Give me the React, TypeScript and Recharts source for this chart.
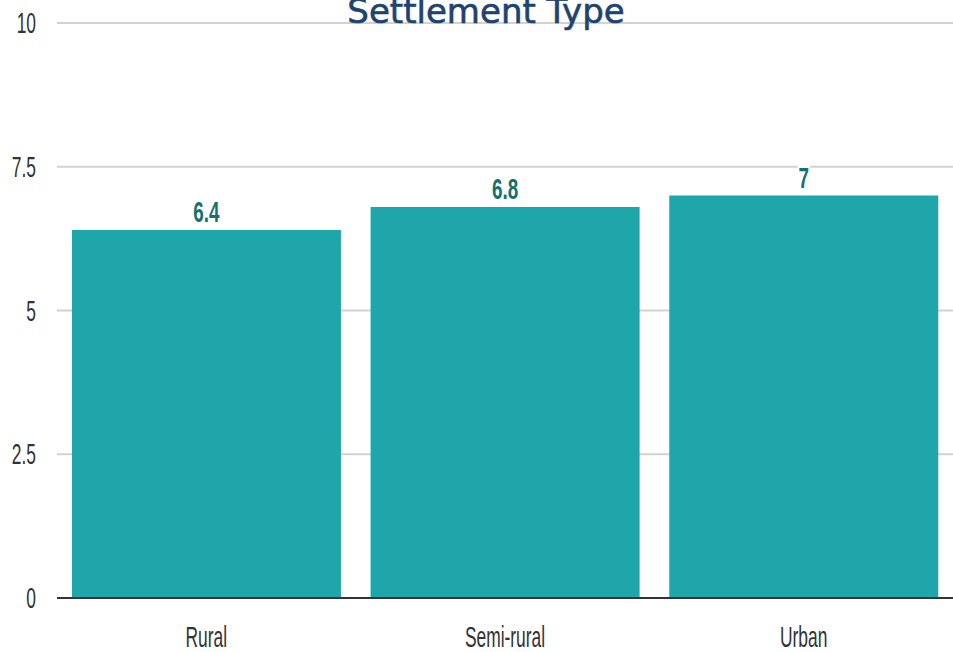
import { Bar, BarChart, CartesianGrid, LabelList, XAxis, YAxis } from "recharts";

const categories = ["Rural", "Semi-rural", "Urban"];
const scores = [6.4, 6.8, 7];
const yTicks = [0, 2.5, 5, 7.5, 10];

const data = categories.map((name, i) => ({ name, score: scores[i] }));

const FONT = "'Liberation Sans', Arial, sans-serif";

if (typeof document !== "undefined") document.body.style.margin = "0";

function XTick({ x, y, payload }: any) {
  return (
    <g transform={`translate(${x},${y + 47}) scale(0.6,1)`}>
      <text textAnchor="middle" fontSize={29} fontFamily={FONT} fill="#333">
        {payload.value}
      </text>
    </g>
  );
}

function YTick({ x, y, payload }: any) {
  return (
    <g transform={`translate(${x - 19},${y + 10}) scale(0.6,1)`}>
      <text textAnchor="end" fontSize={29} fontFamily={FONT} fill="#333">
        {payload.value}
      </text>
    </g>
  );
}

function ValueLabel({ x, y, width, value }: any) {
  return (
    <g transform={`translate(${x + width / 2},${y - 8}) scale(0.65,1)`}>
      <text
        textAnchor="middle"
        fontSize={29}
        fontWeight="bold"
        fontFamily={FONT}
        fill="#17706e"
        stroke="#fff"
        strokeWidth={5}
        paintOrder="stroke"
      >
        {value}
      </text>
    </g>
  );
}

export default function App() {
  return (
    <div style={{ position: "relative", width: 953, height: 652, background: "#fff", overflow: "hidden" }}>
      <BarChart
        width={953}
        height={652}
        data={data}
        margin={{ top: 23, right: 0, bottom: 0, left: 0 }}
        barCategoryGap="5%"
      >
        <CartesianGrid vertical={false} stroke="#d2d2d2" strokeWidth={2} />
        <XAxis
          dataKey="name"
          height={54}
          tickLine={false}
          tickSize={0}
          tick={<XTick />}
          axisLine={{ stroke: "#333", strokeWidth: 2 }}
        />
        <YAxis
          width={57}
          domain={[0, 10]}
          ticks={yTicks}
          axisLine={false}
          tickLine={false}
          tickSize={0}
          tick={<YTick />}
        />
        <Bar dataKey="score" fill="#1fa6ab" isAnimationActive={false}>
          <LabelList dataKey="score" content={<ValueLabel />} />
        </Bar>
      </BarChart>
      <div
        style={{
          position: "absolute",
          left: 486,
          top: -6,
          transform: "translateX(-50%)",
          fontFamily: "'DejaVu Sans', sans-serif",
          fontSize: 34,
          lineHeight: "34px",
          color: "#1d4370",
          WebkitTextStroke: "0.6px #1d4370",
          whiteSpace: "nowrap",
        }}
      >
        Settlement Type
      </div>
    </div>
  );
}
